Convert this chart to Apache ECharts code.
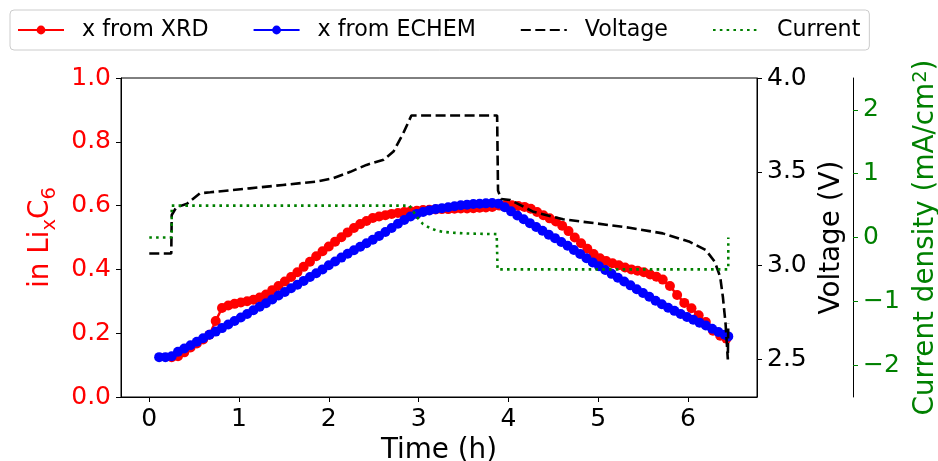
<!DOCTYPE html>
<html><head><meta charset="utf-8">
<script src="https://cdn.jsdelivr.net/npm/echarts@6/dist/echarts.min.js"></script>
<style>html,body{margin:0;padding:0;background:#fff}#c{width:938px;height:461px}</style>
</head><body><div id="c"></div>
<script>
// ---- data ----
const xrdT = [0.25,0.32,0.39,0.46,0.53,0.60,0.67,0.74,0.81,0.88,0.95,1.02,1.09,1.16,1.23,1.30,1.37,1.44,1.51,1.58,1.65,1.72,1.79,1.86,1.93,2.00,2.07,2.14,2.21,2.28,2.35,2.42,2.49,2.56,2.63,2.70,2.77,2.84,2.91,2.98,3.05,3.12,3.19,3.26,3.33,3.40,3.47,3.54,3.61,3.68,3.75,3.82,3.90,3.97,4.04,4.11,4.18,4.25,4.32,4.39,4.46,4.53,4.60,4.67,4.74,4.81,4.88,4.95,5.02,5.09,5.16,5.23,5.30,5.37,5.44,5.51,5.58,5.65,5.72,5.80,5.88,5.96,6.04,6.12,6.20,6.28,6.36,6.43];
const xrdX = [0.125,0.128,0.140,0.155,0.168,0.180,0.195,0.238,0.279,0.287,0.292,0.296,0.300,0.305,0.312,0.321,0.335,0.348,0.362,0.376,0.391,0.408,0.424,0.441,0.457,0.472,0.487,0.501,0.516,0.530,0.542,0.552,0.561,0.566,0.570,0.574,0.577,0.580,0.582,0.584,0.586,0.587,0.588,0.589,0.589,0.590,0.591,0.591,0.592,0.593,0.594,0.596,0.600,0.602,0.601,0.599,0.596,0.590,0.580,0.570,0.560,0.550,0.537,0.520,0.500,0.482,0.465,0.448,0.435,0.426,0.419,0.413,0.406,0.400,0.396,0.391,0.384,0.377,0.368,0.348,0.320,0.295,0.278,0.256,0.235,0.208,0.192,0.183];
const echemT = [0.11,0.18,0.25,0.32,0.39,0.46,0.53,0.60,0.67,0.74,0.81,0.88,0.95,1.02,1.09,1.16,1.23,1.30,1.37,1.44,1.51,1.58,1.65,1.72,1.79,1.86,1.93,2.00,2.07,2.14,2.21,2.28,2.35,2.42,2.49,2.56,2.63,2.70,2.77,2.84,2.91,2.98,3.05,3.12,3.19,3.26,3.33,3.40,3.47,3.54,3.61,3.68,3.75,3.82,3.89,3.96,4.03,4.10,4.17,4.24,4.31,4.38,4.45,4.52,4.59,4.66,4.73,4.80,4.87,4.94,5.01,5.08,5.15,5.22,5.29,5.36,5.43,5.50,5.57,5.64,5.71,5.78,5.85,5.92,5.99,6.06,6.13,6.20,6.27,6.34,6.41,6.45];
const echemX = [0.125,0.125,0.128,0.142,0.152,0.162,0.173,0.184,0.195,0.205,0.216,0.227,0.238,0.249,0.260,0.272,0.283,0.294,0.306,0.318,0.329,0.341,0.352,0.364,0.376,0.388,0.400,0.413,0.425,0.437,0.449,0.460,0.471,0.482,0.493,0.505,0.517,0.530,0.543,0.555,0.566,0.574,0.580,0.585,0.589,0.592,0.595,0.598,0.601,0.603,0.605,0.606,0.607,0.608,0.606,0.595,0.582,0.569,0.557,0.545,0.533,0.521,0.509,0.498,0.486,0.474,0.461,0.448,0.435,0.422,0.410,0.398,0.386,0.374,0.362,0.350,0.338,0.326,0.314,0.302,0.291,0.280,0.270,0.260,0.251,0.242,0.233,0.224,0.214,0.204,0.195,0.190];
const voltT = [0.00,0.245,0.25,0.30,0.42,0.565,0.68,1.12,1.49,1.86,2.05,2.24,2.42,2.61,2.72,2.83,2.92,3.875,3.885,3.92,4.02,4.28,4.61,4.98,5.35,5.72,6.02,6.20,6.30,6.36,6.39,6.42,6.445,6.45];
const voltV = [3.065,3.065,3.27,3.31,3.33,3.386,3.391,3.412,3.430,3.448,3.466,3.500,3.537,3.564,3.608,3.706,3.800,3.800,3.40,3.355,3.350,3.287,3.247,3.225,3.202,3.172,3.127,3.083,3.020,2.940,2.833,2.690,2.500,2.690];
const currT = [0.00,0.25,0.25,2.90,2.94,3.00,3.05,3.13,3.20,3.27,3.35,3.55,3.87,3.88,3.88,6.45,6.45];
const currI = [0.00,0.00,0.50,0.50,0.41,0.29,0.21,0.147,0.11,0.089,0.078,0.062,0.053,0.053,-0.50,-0.50,0.00];
const xTicks = [0,1,2,3,4,5,6];
const voltTicks = [2.5,3.0,3.5,4.0];
const currTicks = [-2,-1,0,1,2];
const legendNames = ['x from XRD','x from ECHEM','Voltage','Current'];
// -------------------------------------
const pairs = (a,b)=>a.map((v,i)=>[v,b[i]]);
const FONT = 'DejaVu Sans';
const TICK = 25, LAB = 27.8, LEG = 22.2;
const chart = echarts.init(document.getElementById('c'), null, {renderer:'canvas'});
const minus = v => (v<0 ? '\u2212'+Math.abs(v) : String(v));
const hidden = {color:'rgba(0,0,0,0)',opacity:0,borderWidth:0};
chart.setOption({
  animation:false,
  backgroundColor:'#fff',
  grid:{left:121,right:181,top:78,bottom:64,show:true,borderColor:'#000',borderWidth:1,containLabel:false,outerBoundsMode:'none'},
  legend:{
    left:10, top:10, padding:[9,9,9,7], itemGap:44, itemWidth:46, itemHeight:11,
    borderColor:'#cccccc', borderWidth:1, borderRadius:4, backgroundColor:'#fff',
    data:[{name:legendNames[0]},{name:legendNames[1]},
          {name:legendNames[2],itemStyle:hidden},{name:legendNames[3],itemStyle:hidden}],
    formatter:'{t|{name}}',
    textStyle:{fontFamily:FONT,fontSize:LEG,color:'#000',
      rich:{t:{fontFamily:FONT,fontSize:LEG,color:'#000',padding:[0,0,0,13]}}}
  },
  xAxis:{
    type:'value', min:-0.315, max:6.77,
    name:'Time (h)', nameLocation:'middle', nameGap:38,
    nameTextStyle:{fontFamily:FONT,fontSize:LAB,color:'#000'},
    axisLine:{show:true,onZero:false,lineStyle:{color:'#000',width:1}},
    axisTick:{show:true,length:5,lineStyle:{color:'#000',width:1},customValues:xTicks},
    axisLabel:{fontFamily:FONT,fontSize:TICK,color:'#000',margin:10,customValues:xTicks},
    splitLine:{show:false}
  },
  yAxis:[
    {type:'value',min:0,max:1,interval:0.2,position:'left',
     name:'{n|in Li}{s|x}{n|C}{s|6}',nameLocation:'middle',nameRotate:90,nameGap:57,
     nameTextStyle:{fontFamily:FONT,fontSize:LAB,color:'#ff0000',
       rich:{n:{fontFamily:FONT,fontSize:LAB,color:'#ff0000',lineHeight:30,verticalAlign:'top'},
             s:{fontFamily:FONT,fontSize:19.5,color:'#ff0000',lineHeight:20,padding:[14,0,0,0],verticalAlign:'top'}}},
     axisLine:{show:true,onZero:false,lineStyle:{color:'#000',width:1}},
     axisTick:{show:true,length:5,lineStyle:{color:'#000',width:1}},
     axisLabel:{fontFamily:FONT,fontSize:TICK,color:'#ff0000',margin:10,formatter:v=>v.toFixed(1)},
     splitLine:{show:false}},
    {type:'value',min:2.3,max:4.0,position:'right',offset:0,
     name:'Voltage (V)',nameLocation:'middle',nameRotate:90,nameGap:51,
     nameTextStyle:{fontFamily:FONT,fontSize:LAB,color:'#000'},
     axisLine:{show:true,onZero:false,lineStyle:{color:'#000',width:1}},
     axisTick:{show:true,length:5,lineStyle:{color:'#000',width:1},customValues:voltTicks},
     axisLabel:{fontFamily:FONT,fontSize:TICK,color:'#000',margin:10,customValues:voltTicks,formatter:v=>v.toFixed(1)},
     splitLine:{show:false}},
    {type:'value',min:-2.5,max:2.5,position:'right',offset:96,
     name:'{n|Current density (mA/cm}{p|2}{n|)}',nameLocation:'middle',nameRotate:90,nameGap:54,
     nameTextStyle:{fontFamily:FONT,fontSize:LAB,color:'#008000',
       rich:{n:{fontFamily:FONT,fontSize:LAB,color:'#008000',lineHeight:30,verticalAlign:'middle'},
             p:{fontFamily:FONT,fontSize:19.5,color:'#008000',lineHeight:20,verticalAlign:'top'}}},
     axisLine:{show:true,onZero:false,lineStyle:{color:'#000',width:1}},
     axisTick:{show:true,length:5,lineStyle:{color:'#008000',width:1},customValues:currTicks},
     axisLabel:{fontFamily:FONT,fontSize:TICK,color:'#008000',margin:10,customValues:currTicks,formatter:minus},
     splitLine:{show:false}}
  ],
  series:[
    {name:legendNames[0],type:'line',yAxisIndex:0,data:pairs(xrdT,xrdX),
     symbol:'circle',symbolSize:10,showSymbol:true,
     lineStyle:{color:'#ff0000',width:2.5},itemStyle:{color:'#ff0000'},z:2},
    {name:legendNames[1],type:'line',yAxisIndex:0,data:pairs(echemT,echemX),
     symbol:'circle',symbolSize:10,showSymbol:true,
     lineStyle:{color:'#0000ff',width:2.5},itemStyle:{color:'#0000ff'},z:3},
    {name:legendNames[2],type:'line',yAxisIndex:1,data:pairs(voltT,voltV),
     symbol:'none',lineStyle:{color:'#000',width:2.6,type:[10,4.5]},itemStyle:{color:'#000'},z:4},
    {name:legendNames[3],type:'line',yAxisIndex:2,data:pairs(currT,currI),
     symbol:'none',lineStyle:{color:'#008000',width:2.6,type:[2.6,4.2]},itemStyle:{color:'#008000'},z:5}
  ]
});
</script></body></html>
